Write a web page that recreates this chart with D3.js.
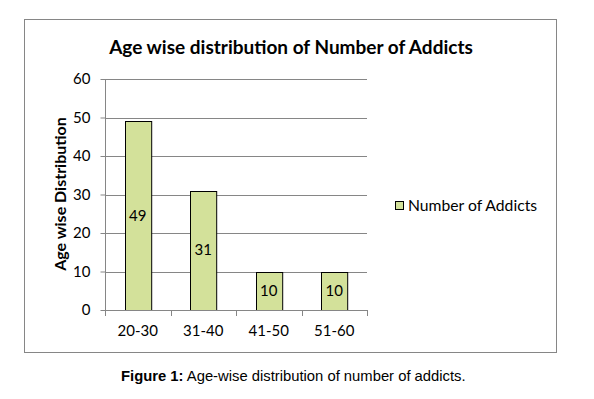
<!DOCTYPE html>
<html><head><meta charset="utf-8">
<script src="https://cdn.jsdelivr.net/npm/d3@7"></script>
<style>body{margin:0;background:#fff;} svg{display:block;}</style>
</head><body>
<svg id="c" width="594" height="399"></svg>
<script>
const categories = ["20-30", "31-40", "41-50", "51-60"];
const values = [49, 31, 10, 10];
const yTicks = [0, 10, 20, 30, 40, 50, 60];
const title = "Age wise distribution of Number of Addicts";
const yTitle = "Age wise Distribution";
const seriesName = "Number of Addicts";

const svg = d3.select("#c");
const F = "Lato, 'Open Sans', sans-serif";
const m = {left: 105, right: 367, top: 79, bottom: 310};

svg.append("rect").attr("x", 24.5).attr("y", 19.5).attr("width", 532).attr("height", 333)
  .attr("fill", "#fff").attr("stroke", "#868686").attr("stroke-width", 1);

svg.append("text").attr("x", 291).attr("y", 54).attr("text-anchor", "middle")
  .attr("font-family", F).attr("font-weight", "bold").attr("font-size", 19).attr("fill", "#000").text(title);

const x = d3.scaleBand().domain(categories).range([m.left, m.right]).paddingInner(0.6).paddingOuter(0.3);
const xb = d3.scaleBand().domain(categories).range([m.left, m.right]);
const y = d3.scaleLinear().domain([0, 60]).range([m.bottom, m.top]);

// gridlines
svg.append("g").selectAll("line").data(yTicks.filter(d => d > 0)).join("line")
  .attr("x1", m.left).attr("x2", m.right).attr("y1", d => Math.round(y(d)) + 0.5).attr("y2", d => Math.round(y(d)) + 0.5)
  .attr("stroke", "#868686");

// y axis
const ya = svg.append("g").attr("transform", `translate(${m.left + 0.5},0)`)
  .call(d3.axisLeft(y).tickValues(yTicks).tickSize(5).tickPadding(10).tickSizeOuter(0));
ya.select(".domain").attr("stroke", "#868686").attr("d", `M0,${m.top}V${m.bottom + 6}`);
ya.selectAll(".tick line").attr("stroke", "#868686");
ya.selectAll(".tick text").attr("font-family", F).attr("font-size", 15).attr("fill", "#000");

// bars
svg.append("g").selectAll("rect").data(values).join("rect")
  .attr("x", (d, i) => Math.round(x(categories[i])) + 0.5)
  .attr("y", d => Math.round(y(d)) + 0.5)
  .attr("width", x.bandwidth())
  .attr("height", d => m.bottom - Math.round(y(d)))
  .attr("fill", "#d3e19a").attr("stroke", "#000").attr("stroke-width", 1);

// data labels
svg.append("g").selectAll("text").data(values).join("text")
  .attr("x", (d, i) => x(categories[i]) + x.bandwidth() / 2)
  .attr("y", d => (y(d) + m.bottom) / 2 + 5)
  .attr("text-anchor", "middle").attr("font-family", F).attr("font-size", 15).attr("fill", "#000")
  .text(d => d);

// x axis
const xa = svg.append("g").attr("transform", `translate(0,${m.bottom + 0.5})`)
  .call(d3.axisBottom(x).tickSize(0).tickPadding(15));
xa.select(".domain").attr("stroke", "#868686").attr("d", `M${m.left},0H${m.right}`);
xa.selectAll(".tick text").attr("font-family", F).attr("font-size", 15).attr("fill", "#000");
svg.append("g").selectAll("line").data([...categories.map(c => xb(c)), m.right]).join("line")
  .attr("x1", d => Math.round(d) + 0.5).attr("x2", d => Math.round(d) + 0.5)
  .attr("y1", m.bottom).attr("y2", m.bottom + 6).attr("stroke", "#868686");

// y title
svg.append("text").attr("transform", `translate(66,194) rotate(-90)`).attr("text-anchor", "middle")
  .attr("font-family", F).attr("font-weight", "bold").attr("font-size", 16).attr("fill", "#000").text(yTitle);

// legend
svg.append("rect").attr("x", 395.5).attr("y", 201.5).attr("width", 8).attr("height", 8)
  .attr("fill", "#d3e19a").attr("stroke", "#000");
svg.append("text").attr("x", 408).attr("y", 211).attr("font-family", F).attr("font-size", 15.7).attr("fill", "#000").text(seriesName);

// caption
const cap = svg.append("text").attr("x", 121).attr("y", 381).attr("font-family", "'Liberation Sans', Arial, sans-serif")
  .attr("font-size", 14.8).attr("fill", "#000");
cap.append("tspan").attr("font-weight", "bold").text("Figure 1:");
cap.append("tspan").text(" Age-wise distribution of number of addicts.");
</script>
</body></html>
